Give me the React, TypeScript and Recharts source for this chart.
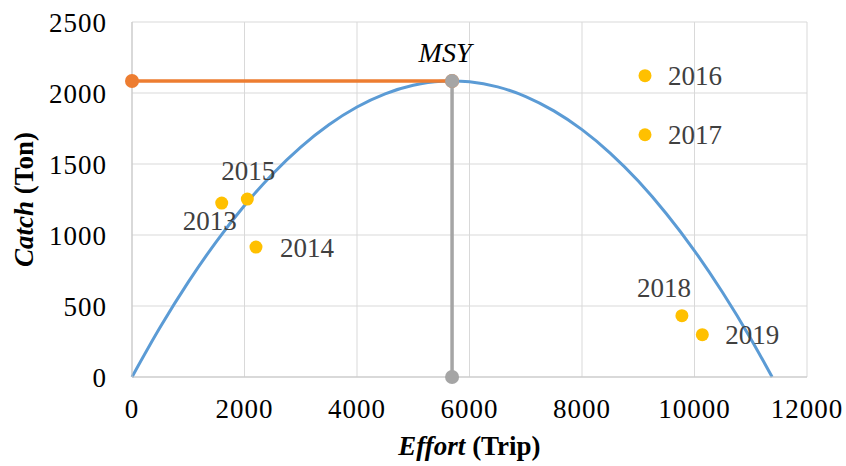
import React from "react";
import {
  ComposedChart,
  Line,
  Scatter,
  XAxis,
  YAxis,
  CartesianGrid,
  Label,
} from "recharts";

// Fitted surplus production curve (Effort vs Catch)
const curveEffort = [0, 500, 1000, 1500, 2000, 2500, 3000, 3500, 4000, 4500, 5000, 5500, 5690, 6000, 6500, 7000, 7500, 8000, 8500, 9000, 9500, 10000, 10500, 11000, 11380];
const curveCatch = [0, 350, 668, 954, 1208, 1430, 1619, 1776, 1901, 1994, 2054, 2083, 2085, 2079, 2043, 1975, 1874, 1742, 1577, 1380, 1150, 889, 595, 270, 0];

// Observed yearly points
const years = ["2013", "2014", "2015", "2016", "2017", "2018", "2019"];
const obsEffort = [1595, 2204, 2050, 9120, 9120, 9776, 10139];
const obsCatch = [1225, 915, 1253, 2122, 1706, 432, 298];

// MSY reference
const msyEffort = 5690;
const msyCatch = 2085;

const xTicks = [0, 2000, 4000, 6000, 8000, 10000, 12000];
const yTicks = [0, 500, 1000, 1500, 2000, 2500];

const curveData = curveEffort.map((x, i) => ({ x, y: curveCatch[i] }));
const obsData = years.map((year, i) => ({ year, x: obsEffort[i], y: obsCatch[i] }));
const hLineData = [
  { x: 0, y: msyCatch },
  { x: msyEffort, y: msyCatch },
];
const vLineData = [
  { x: msyEffort, y: 0 },
  { x: msyEffort, y: msyCatch },
];

// label placement (layout only)
const labelLayout: Record<string, { dx: number; dy: number; anchor: "start" | "middle" | "end" }> = {
  "2013": { dx: -12, dy: 27, anchor: "middle" },
  "2014": { dx: 24, dy: 10, anchor: "start" },
  "2015": { dx: 1, dy: -19, anchor: "middle" },
  "2016": { dx: 23, dy: 9, anchor: "start" },
  "2017": { dx: 23, dy: 9, anchor: "start" },
  "2018": { dx: -18, dy: -19, anchor: "middle" },
  "2019": { dx: 23, dy: 9, anchor: "start" },
};

const FONT =
  "'Liberation Serif', Tinos, 'Times New Roman', Times, 'Nimbus Roman', 'Nimbus Roman No9 L', FreeSerif, 'Noto Serif', 'DejaVu Serif', 'Noto Serif CJK SC', serif";

const YTitle = (props: any) => {
  const vb = props.viewBox || { x: 0, y: 22, width: 132, height: 355 };
  const cx = 33;
  const cy = vb.y + vb.height / 2;
  return (
    <text
      x={cx}
      y={cy}
      transform={`rotate(-90, ${cx}, ${cy})`}
      textAnchor="middle"
      style={{ fontFamily: FONT }}
      fontSize={27}
      fontWeight="bold"
      fill="#000"
    >
      <tspan fontStyle="italic">Catch</tspan>
      <tspan> (Ton)</tspan>
    </text>
  );
};

const XTitle = (props: any) => {
  const vb = props.viewBox || { x: 132, y: 377, width: 675, height: 89 };
  const cx = vb.x + vb.width / 2;
  const cy = vb.y + 78;
  return (
    <text x={cx} y={cy} textAnchor="middle" style={{ fontFamily: FONT }} fontSize={27} fontWeight="bold" fill="#000">
      <tspan fontStyle="italic">Effort</tspan>
      <tspan> (Trip)</tspan>
    </text>
  );
};

const YearShape = (p: any) => {
  const { cx, cy, payload } = p;
  const l = labelLayout[payload.year];
  return (
    <g>
      <circle cx={cx} cy={cy} r={6.5} fill="#FFC000" />
      <text
        x={cx + l.dx}
        y={cy + l.dy}
        textAnchor={l.anchor}
        style={{ fontFamily: FONT }}
        fontSize={27}
        fill="#404040"
      >
        {payload.year}
      </text>
    </g>
  );
};

const OrangeDot = (p: any) => (
  <circle key={`o-${p.index}`} cx={p.cx} cy={p.cy} r={7} fill="#ED7D31" />
);

const GreyDot = (p: any) => (
  <g key={`g-${p.index}`}>
    <circle cx={p.cx} cy={p.cy} r={7} fill="#A5A5A5" />
    {p.payload && p.payload.y > 0 ? (
      <text x={p.cx - 7} y={p.cy - 19} textAnchor="middle" style={{ fontFamily: FONT }} fontSize={28} fontStyle="italic" fill="#000">
        MSY
      </text>
    ) : null}
  </g>
);

const tickStyle = { fontFamily: FONT, fontSize: 27, fill: "#000", letterSpacing: 1 };

export default function App() {
  return (
    <div style={{ position: "absolute", left: 0, top: 0, background: "#fff", fontFamily: FONT }}>
      <ComposedChart
        width={846}
        height={466}
        margin={{ top: 22, right: 39, bottom: 0, left: 0 }}
        style={{ fontFamily: FONT }}
      >
        <CartesianGrid stroke="#d9d9d9" strokeWidth={1} />
        <XAxis
          dataKey="x"
          type="number"
          domain={[0, 12000]}
          ticks={xTicks}
          height={89}
          axisLine={{ stroke: "#c6c6c6", strokeWidth: 1 }}
          tickLine={false}
          tickSize={0}
          tickMargin={22}
          tick={tickStyle}
        >
          <Label content={XTitle} />
        </XAxis>
        <YAxis
          dataKey="y"
          type="number"
          domain={[0, 2500]}
          ticks={yTicks}
          width={132}
          axisLine={{ stroke: "#c6c6c6", strokeWidth: 1 }}
          tickLine={false}
          tickSize={0}
          tickMargin={25}
          tick={tickStyle}
        >
          <Label content={YTitle} />
        </YAxis>
        <Line
          data={curveData}
          dataKey="y"
          type="monotone"
          stroke="#5B9BD5"
          strokeWidth={3}
          dot={false}
          activeDot={false}
          isAnimationActive={false}
        />
        <Line
          data={hLineData}
          dataKey="y"
          type="linear"
          stroke="#ED7D31"
          strokeWidth={3.5}
          dot={OrangeDot}
          activeDot={false}
          isAnimationActive={false}
        />
        <Line
          data={vLineData}
          dataKey="y"
          type="linear"
          stroke="#A5A5A5"
          strokeWidth={3.5}
          dot={GreyDot}
          activeDot={false}
          isAnimationActive={false}
        />
        <Scatter data={obsData} dataKey="y" shape={YearShape} isAnimationActive={false} />
      </ComposedChart>
    </div>
  );
}
